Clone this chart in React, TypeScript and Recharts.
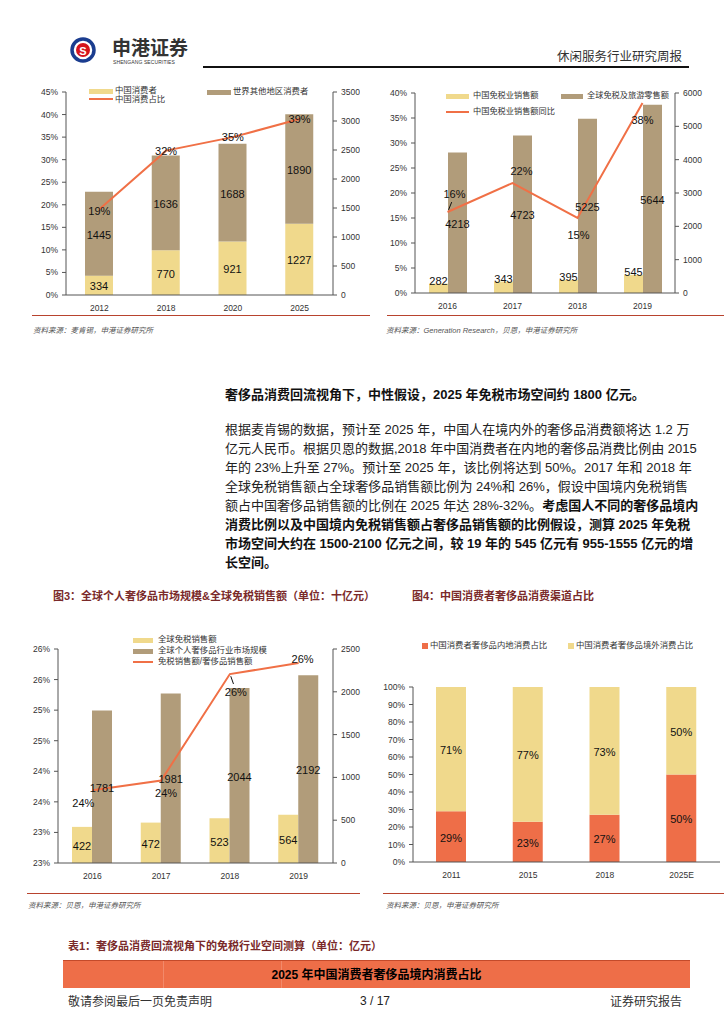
import React from "react";
import {
  ComposedChart, BarChart, Bar, Line, XAxis, YAxis, LabelList,
} from "recharts";

// ---------- Data ----------
const c1Years = ["2012", "2018", "2020", "2025"];
const c1China = [334, 770, 921, 1227];
const c1World = [1445, 1636, 1688, 1890];
const c1Share = [0.19, 0.32, 0.35, 0.39];

const c2Years = ["2016", "2017", "2018", "2019"];
const c2ChinaDF = [282, 343, 395, 545];
const c2Global = [4218, 4723, 5225, 5644];
const c2Yoy = [0.162, 0.22, 0.15, 0.38];

const c3Years = ["2016", "2017", "2018", "2019"];
const c3DutyFree = [422, 472, 523, 564];
const c3Luxury = [1781, 1981, 2044, 2192];
const c3Ratio = [0.2369, 0.2385, 0.2559, 0.2577];

const c4Years = ["2011", "2015", "2018", "2025E"];
const c4Domestic = [0.29, 0.23, 0.27, 0.5];
const c4Overseas = [0.71, 0.77, 0.73, 0.5];

const c1LeftTicks = [0, 0.05, 0.1, 0.15, 0.2, 0.25, 0.3, 0.35, 0.4, 0.45];
const c1RightTicks = [0, 500, 1000, 1500, 2000, 2500, 3000, 3500];
const c2LeftTicks = [0, 0.05, 0.1, 0.15, 0.2, 0.25, 0.3, 0.35, 0.4];
const c2RightTicks = [0, 1000, 2000, 3000, 4000, 5000, 6000];
const c3LeftTicks = [0.225, 0.23, 0.235, 0.24, 0.245, 0.25, 0.255, 0.26];
const c3RightTicks = [0, 500, 1000, 1500, 2000, 2500];
const c4Ticks = [0, 0.1, 0.2, 0.3, 0.4, 0.5, 0.6, 0.7, 0.8, 0.9, 1];

const paraLines = [
  "根据麦肯锡的数据，预计至 2025 年，中国人在境内外的奢侈品消费额将达 1.2 万",
  "亿元人民币。根据贝恩的数据,2018 年中国消费者在内地的奢侈品消费比例由 2015",
  "年的 23%上升至 27%。预计至 2025 年，该比例将达到 50%。2017 年和 2018 年",
  "全球免税销售额占全球奢侈品销售额比例为 24%和 26%，假设中国境内免税销售",
];

// ---------- Styles ----------
const YELLOW = "#F0D98C";
const BROWN = "#B19C7A";
const ORANGE = "#F07046";
const ORANGE4 = "#EE6E48";
const AXIS = "#555";
const FONT = "'Liberation Sans', 'Noto Sans CJK SC', sans-serif";
const CJK = "'Liberation Sans', 'Noto Sans CJK SC', sans-serif";
const TITLE_RED = "#7A2A2A";
const RULE_RED = "#B8432E";

const tickStyle = { fontSize: 8.5, fill: "#333", fontFamily: FONT };
const pct = (v: number) => `${Math.round(v * 100)}%`;

const build = (...cols: [string, any[]][]) =>
  cols[0][1].map((_, i) => {
    const o: any = {};
    cols.forEach(([k, arr]) => (o[k] = arr[i]));
    return o;
  });

const c1Data = build(["year", c1Years], ["china", c1China], ["world", c1World], ["share", c1Share]);
const c2Data = build(["year", c2Years], ["china", c2ChinaDF], ["global", c2Global], ["yoy", c2Yoy]);
const c3Data = build(["year", c3Years], ["df", c3DutyFree], ["lux", c3Luxury], ["ratio", c3Ratio]);
const c4Data = build(["year", c4Years], ["dom", c4Domestic], ["ovs", c4Overseas]);

const centerLabel = (fmt?: (v: any) => string) => (p: any) => {
  const { x, y, width, height, value } = p;
  return (
    <text x={Number(x) + Number(width) / 2} y={Number(y) + Number(height) / 2 + 1}
      textAnchor="middle" dominantBaseline="central" fontSize={11} fill="#111" fontFamily={FONT}>
      {fmt ? fmt(value) : value}
    </text>
  );
};

const topLabel = (p: any) => {
  const { x, y, width, value } = p;
  return (
    <text x={Number(x) + Number(width) / 2} y={Number(y) - 2.5}
      textAnchor="middle" dominantBaseline="central" fontSize={11} fill="#111" fontFamily={FONT}>
      {value}
    </text>
  );
};

const offsetLabel = (offs: { dx: number; dy: number; lead?: boolean }[]) => (p: any) => {
  const { x, y, value, index } = p;
  const o = offs[index] || { dx: 0, dy: 0 };
  const px = Number(x), py = Number(y);
  const lx = px + o.dx, ly = py + o.dy;
  return (
    <g>
      {o.lead ? (
        <line x1={px + o.dx * 0.15} y1={py + o.dy * 0.12} x2={px + o.dx * 0.6} y2={py + o.dy * 0.55}
          stroke="#111" strokeWidth={1} />
      ) : null}
      <text x={lx} y={ly} textAnchor="middle" dominantBaseline="central" fontSize={11}
        fill="#111" fontFamily={FONT}>
        {pct(value)}
      </text>
    </g>
  );
};

const c1LineOffs = [{ dx: 0, dy: 2 }, { dx: 0, dy: 0 }, { dx: 0, dy: 0 }, { dx: 0, dy: 0 }];
const c2LineOffs = [{ dx: 7, dy: -18, lead: true }, { dx: 9, dy: -12 }, { dx: 1, dy: 17 }, { dx: 0, dy: 17 }];
const c3LineOffs = [{ dx: -9, dy: 13 }, { dx: 5, dy: 13 }, { dx: 6, dy: 18, lead: true }, { dx: 4, dy: -4 }];

// ---------- Small helpers ----------
const T = ({ x, y, size, children, style }: any) => (
  <div style={{
    position: "absolute", left: x, top: y - size * 0.7, fontSize: size, lineHeight: `${size * 1.4}px`,
    whiteSpace: "nowrap", fontFamily: CJK, ...style,
  }}>{children}</div>
);

const Swatch = ({ x, y, w, h, color }: any) => (
  <div style={{ position: "absolute", left: x, top: y - h / 2, width: w, height: h, background: color }} />
);

const Rule = ({ x1, x2, y, color, th = 1 }: any) => (
  <div style={{ position: "absolute", left: x1, top: y, width: x2 - x1, height: th, background: color }} />
);

const Box = ({ x, y, children }: any) => (
  <div style={{ position: "absolute", left: x, top: y }}>{children}</div>
);

export default function App() {
  const legendTxt = { color: "#333", fontSize: 8.4 };
  return (
    <div style={{
      position: "absolute", left: 0, top: 0, width: 724, height: 1024, background: "#fff",
      overflow: "hidden", fontFamily: CJK,
    }}>
      {/* Header */}
      <svg style={{ position: "absolute", left: 68, top: 36 }} width={30} height={30}>
        <circle cx={15} cy={14} r={11} fill="#fff" stroke="#1B3D8F" strokeWidth={3.5} />
        <circle cx={15} cy={14} r={7} fill="#D6141B" />
        <text x={15} y={14.5} textAnchor="middle" dominantBaseline="central" fontSize={11}
          fontWeight="bold" fill="#fff" fontFamily={FONT}>S</text>
      </svg>
      <T x={112} y={49} size={19} style={{ fontWeight: "bold", color: "#333", letterSpacing: 0 }}>申港证券</T>
      <T x={113} y={62} size={5} style={{ color: "#333", fontFamily: FONT, letterSpacing: 0.1 }}>SHENGANG SECURITIES</T>
      <T x={557} y={58} size={12.5} style={{ color: "#333" }}>休闲服务行业研究周报</T>
      <Rule x1={203} x2={689} y={66} color="#111" th={1.5} />

      {/* Chart 1 */}
      <Box x={30} y={80}>
        <ComposedChart width={330} height={235} data={c1Data}
          margin={{ top: 12, right: 0, bottom: 0, left: 0 }} barCategoryGap={0}>
          <XAxis dataKey="year" height={20} tickLine={false} stroke={AXIS} tick={tickStyle} tickMargin={4} />
          <YAxis yAxisId="l" width={36} domain={[0, 0.45]} ticks={c1LeftTicks} tickFormatter={pct}
            stroke={AXIS} tick={tickStyle} tickSize={4} tickMargin={4} interval={0} />
          <YAxis yAxisId="r" orientation="right" width={27} domain={[0, 3500]} ticks={c1RightTicks}
            stroke={AXIS} tick={tickStyle} tickSize={4} tickMargin={4} interval={0} />
          <Bar yAxisId="r" dataKey="china" stackId="a" fill={YELLOW} barSize={28} isAnimationActive={false}>
            <LabelList dataKey="china" content={centerLabel()} />
          </Bar>
          <Bar yAxisId="r" dataKey="world" stackId="a" fill={BROWN} barSize={28} isAnimationActive={false}>
            <LabelList dataKey="world" content={centerLabel()} />
          </Bar>
          <Line yAxisId="l" dataKey="share" stroke={ORANGE} strokeWidth={2} dot={false} isAnimationActive={false}>
            <LabelList dataKey="share" content={offsetLabel(c1LineOffs)} />
          </Line>
        </ComposedChart>
      </Box>
      <Swatch x={89} y={91} w={24} h={5} color={YELLOW} />
      <T x={115} y={91} size={8.4} style={legendTxt}>中国消费者</T>
      <Swatch x={89} y={99} w={24} h={2} color={ORANGE} />
      <T x={115} y={100} size={8.4} style={legendTxt}>中国消费占比</T>
      <Swatch x={207} y={92} w={24} h={5} color={BROWN} />
      <T x={233} y={92} size={8.4} style={legendTxt}>世界其他地区消费者</T>

      {/* Chart 2 */}
      <Box x={370} y={80}>
        <ComposedChart width={340} height={233} data={c2Data}
          margin={{ top: 13, right: 0, bottom: 0, left: 0 }} barGap={0}>
          <XAxis dataKey="year" height={20} tickLine={false} stroke={AXIS} tick={tickStyle} tickMargin={4} />
          <YAxis yAxisId="l" width={45} domain={[0, 0.4]} ticks={c2LeftTicks} tickFormatter={pct}
            stroke={AXIS} tick={tickStyle} tickSize={4} tickMargin={4} interval={0} />
          <YAxis yAxisId="r" orientation="right" width={35} domain={[0, 6000]} ticks={c2RightTicks}
            stroke={AXIS} tick={tickStyle} tickSize={4} tickMargin={4} interval={0} />
          <Bar yAxisId="r" dataKey="china" fill={YELLOW} barSize={19} isAnimationActive={false}>
            <LabelList dataKey="china" content={topLabel} />
          </Bar>
          <Bar yAxisId="r" dataKey="global" fill={BROWN} barSize={19} isAnimationActive={false}>
            <LabelList dataKey="global" content={centerLabel()} />
          </Bar>
          <Line yAxisId="l" dataKey="yoy" stroke={ORANGE} strokeWidth={2} dot={false} isAnimationActive={false}>
            <LabelList dataKey="yoy" content={offsetLabel(c2LineOffs)} />
          </Line>
        </ComposedChart>
      </Box>
      <Swatch x={446} y={96} w={23} h={5} color={YELLOW} />
      <T x={473} y={96} size={8.2} style={{ ...legendTxt, fontSize: 8.2 }}>中国免税业销售额</T>
      <Swatch x={561} y={96} w={22} h={5} color={BROWN} />
      <T x={587} y={96} size={8.2} style={{ ...legendTxt, fontSize: 8.2 }}>全球免税及旅游零售额</T>
      <Swatch x={446} y={112} w={23} h={2} color={ORANGE} />
      <T x={473} y={112} size={8.2} style={{ ...legendTxt, fontSize: 8.2 }}>中国免税业销售额同比</T>

      {/* Sources top */}
      <Rule x1={32} x2={370} y={315} color={RULE_RED} />
      <T x={33} y={331} size={7.5} style={{ color: "#555", fontStyle: "italic" }}>资料来源：麦肯锡，申港证券研究所</T>
      <Rule x1={387} x2={724} y={315} color={RULE_RED} />
      <T x={386} y={331} size={7.5} style={{ color: "#555", fontStyle: "italic" }}>资料来源：Generation Research，贝恩，申港证券研究所</T>

      {/* Text */}
      <T x={225} y={395} size={13} style={{ fontWeight: "bold", color: "#111" }}>
        奢侈品消费回流视角下，中性假设，2025 年免税市场空间约 1800 亿元。
      </T>
      {paraLines.map((l, i) => (
        <div key={i} style={{
          position: "absolute", left: 225, width: 463, top: 429 + i * 19.14 - 9.5, height: 19,
          fontSize: 13, lineHeight: "19px", textAlign: "justify", textAlignLast: "justify",
          color: "#222", whiteSpace: "nowrap", fontFamily: CJK,
        }}>{l}</div>
      ))}
      <div style={{
        position: "absolute", left: 225, width: 463, top: 429 + 4 * 19.14 - 9.5, height: 19,
        fontSize: 13, lineHeight: "19px", textAlign: "justify", textAlignLast: "justify",
        color: "#222", whiteSpace: "nowrap", fontFamily: CJK,
      }}>额占中国奢侈品销售额的比例在 2025 年达 28%-32%。<b style={{ color: "#111" }}>考虑国人不同的奢侈品境内</b></div>
      {[
        "消费比例以及中国境内免税销售额占奢侈品销售额的比例假设，测算 2025 年免税",
        "市场空间大约在 1500-2100 亿元之间，较 19 年的 545 亿元有 955-1555 亿元的增",
      ].map((l, i) => (
        <div key={"b" + i} style={{
          position: "absolute", left: 225, width: 463, top: 429 + (5 + i) * 19.14 - 9.5, height: 19,
          fontSize: 13, lineHeight: "19px", textAlign: "justify", textAlignLast: "justify",
          color: "#111", fontWeight: "bold", whiteSpace: "nowrap", fontFamily: CJK,
        }}>{l}</div>
      ))}
      <T x={225} y={563} size={13} style={{ fontWeight: "bold", color: "#111" }}>长空间。</T>

      {/* Figure titles */}
      <T x={53} y={597} size={11} style={{ color: TITLE_RED, fontWeight: "bold" }}>图3：全球个人奢侈品市场规模&amp;全球免税销售额（单位：十亿元）</T>
      <T x={412} y={597} size={11} style={{ color: TITLE_RED, fontWeight: "bold" }}>图4：中国消费者奢侈品消费渠道占比</T>

      {/* Chart 3 */}
      <Box x={20} y={637}>
        <ComposedChart width={341} height={246} data={c3Data}
          margin={{ top: 12, right: 0, bottom: 0, left: 0 }} barGap={0}>
          <XAxis dataKey="year" height={20} tickLine={false} stroke={AXIS} tick={tickStyle} tickMargin={4} />
          <YAxis yAxisId="l" width={38} domain={[0.225, 0.26]} ticks={c3LeftTicks} tickFormatter={pct}
            stroke={AXIS} tick={tickStyle} tickSize={4} tickMargin={4} interval={0} allowDataOverflow />
          <YAxis yAxisId="r" orientation="right" width={28} domain={[0, 2500]} ticks={c3RightTicks}
            stroke={AXIS} tick={tickStyle} tickSize={4} tickMargin={4} interval={0} />
          <Bar yAxisId="r" dataKey="df" fill={YELLOW} barSize={20} isAnimationActive={false}>
            <LabelList dataKey="df" content={centerLabel()} />
          </Bar>
          <Bar yAxisId="r" dataKey="lux" fill={BROWN} barSize={20} isAnimationActive={false}>
            <LabelList dataKey="lux" content={centerLabel()} />
          </Bar>
          <Line yAxisId="l" dataKey="ratio" stroke={ORANGE} strokeWidth={2} dot={false} isAnimationActive={false}>
            <LabelList dataKey="ratio" content={offsetLabel(c3LineOffs)} />
          </Line>
        </ComposedChart>
      </Box>
      <Swatch x={133} y={640} w={20} h={5} color={YELLOW} />
      <T x={158} y={640} size={8.4} style={legendTxt}>全球免税销售额</T>
      <Swatch x={133} y={651} w={20} h={5} color={BROWN} />
      <T x={158} y={651} size={8.4} style={legendTxt}>全球个人奢侈品行业市场规模</T>
      <Swatch x={133} y={662} w={20} h={2} color={ORANGE} />
      <T x={158} y={662} size={8.4} style={legendTxt}>免税销售额/奢侈品销售额</T>

      {/* Chart 4 */}
      <Box x={370} y={675}>
        <BarChart width={354} height={207} data={c4Data}
          margin={{ top: 12, right: 4, bottom: 0, left: 0 }}>
          <XAxis dataKey="year" height={20} tickLine={false} stroke={AXIS} tick={tickStyle} tickMargin={4} />
          <YAxis width={43} domain={[0, 1]} ticks={c4Ticks} tickFormatter={pct}
            stroke={AXIS} tick={tickStyle} tickSize={4} tickMargin={4} interval={0} />
          <Bar dataKey="dom" stackId="s" fill={ORANGE4} barSize={30} isAnimationActive={false}>
            <LabelList dataKey="dom" content={centerLabel(pct)} />
          </Bar>
          <Bar dataKey="ovs" stackId="s" fill={YELLOW} barSize={30} isAnimationActive={false}>
            <LabelList dataKey="ovs" content={centerLabel(pct)} />
          </Bar>
        </BarChart>
      </Box>
      <Swatch x={422} y={646} w={6} h={6} color={ORANGE4} />
      <T x={430} y={646} size={8.4} style={legendTxt}>中国消费者奢侈品内地消费占比</T>
      <Swatch x={568} y={646} w={6} h={6} color={YELLOW} />
      <T x={576} y={646} size={8.4} style={legendTxt}>中国消费者奢侈品境外消费占比</T>

      {/* Sources bottom */}
      <Rule x1={27} x2={360} y={893} color={RULE_RED} />
      <T x={28} y={906} size={7.5} style={{ color: "#555", fontStyle: "italic" }}>资料来源：贝恩，申港证券研究所</T>
      <Rule x1={383} x2={724} y={893} color={RULE_RED} />
      <T x={386} y={906} size={7.5} style={{ color: "#555", fontStyle: "italic" }}>资料来源：贝恩，申港证券研究所</T>

      {/* Table */}
      <T x={68} y={947} size={11} style={{ color: TITLE_RED, fontWeight: "bold" }}>表1：奢侈品消费回流视角下的免税行业空间测算（单位：亿元）</T>
      <div style={{ position: "absolute", left: 63, top: 960, width: 627, height: 27, background: ORANGE4, borderTop: "1.5px solid #C44A2A" }} />
      <div style={{ position: "absolute", left: 163, top: 961, width: 1, height: 27, background: "#F2896A" }} />
      <div style={{ position: "absolute", left: 281, top: 961, width: 1, height: 27, background: "#F2896A" }} />
      <div style={{
        position: "absolute", left: 63, width: 627, top: 965, textAlign: "center", fontSize: 12,
        lineHeight: "20px", fontWeight: "bold", color: "#000", fontFamily: CJK,
      }}>2025 年中国消费者奢侈品境内消费占比</div>

      {/* Footer */}
      <T x={68} y={1002} size={12} style={{ color: "#333" }}>敬请参阅最后一页免责声明</T>
      <div style={{ position: "absolute", left: 325, width: 100, top: 993, textAlign: "center", fontSize: 12, lineHeight: "17px", color: "#222", fontFamily: FONT }}>3 / 17</div>
      <T x={610} y={1002} size={12} style={{ color: "#333" }}>证券研究报告</T>
    </div>
  );
}
